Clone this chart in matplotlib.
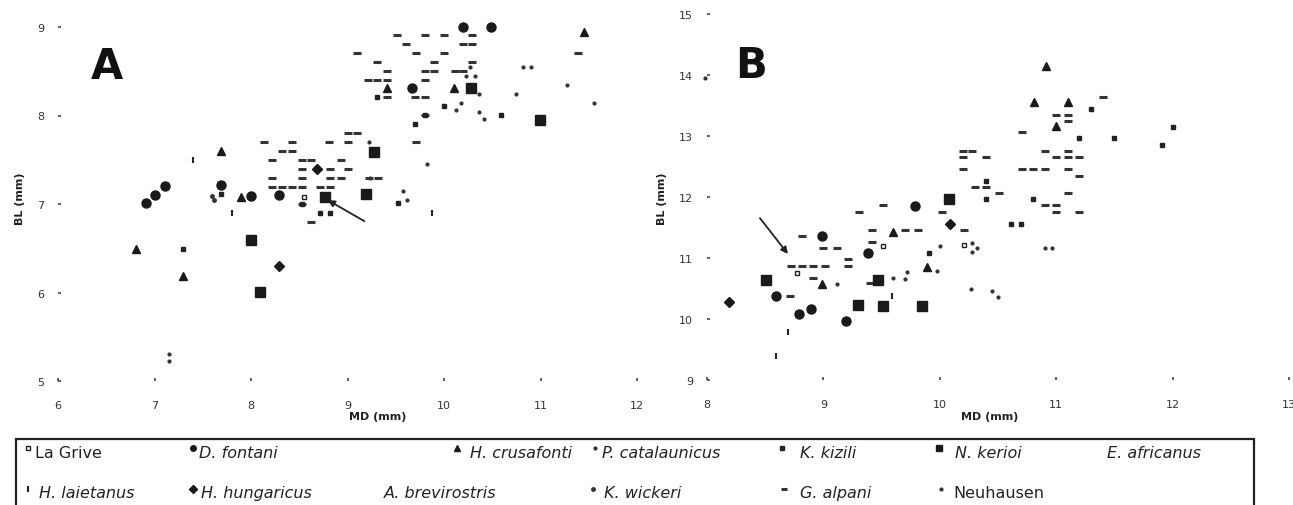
import numpy as np
import matplotlib.pyplot as plt
from matplotlib.lines import Line2D
from matplotlib.patches import Rectangle

# --- data (MD, BL in mm) ---
# panel A
a_alpani = [(9.51, 8.91), (9.80, 8.91), (10.0, 8.91), (10.29, 8.91),
            (9.61, 8.81), (10.20, 8.81), (10.29, 8.81),
            (9.10, 8.71), (9.71, 8.71), (10.0, 8.71), (11.39, 8.71),
            (9.31, 8.60), (9.90, 8.60), (10.29, 8.60),
            (9.41, 8.50), (9.80, 8.50), (9.90, 8.50), (10.11, 8.50), (10.20, 8.50),
            (9.21, 8.40), (9.31, 8.40), (9.41, 8.40), (9.80, 8.40),
            (9.41, 8.21), (9.70, 8.21), (9.80, 8.21), (9.80, 8.01),
            (9.01, 7.80), (9.10, 7.80),
            (8.13, 7.70), (8.42, 7.70), (8.81, 7.70), (9.01, 7.70), (9.71, 7.70),
            (8.32, 7.60), (8.42, 7.60),
            (8.22, 7.50), (8.53, 7.50), (8.62, 7.50), (8.93, 7.50),
            (8.53, 7.40), (8.82, 7.40), (9.01, 7.40),
            (8.22, 7.29), (8.53, 7.29), (8.82, 7.29), (8.93, 7.29), (9.22, 7.29), (9.32, 7.29),
            (8.22, 7.19), (8.32, 7.19), (8.42, 7.19), (8.53, 7.19), (8.72, 7.19), (8.82, 7.19),
            (8.53, 7.00), (8.62, 6.80)]
a_kerioi = [(10.28, 8.31), (10.99, 7.95), (9.27, 7.59), (9.19, 7.11),
            (8.77, 7.08), (8.00, 6.59), (8.09, 6.01)]
a_fontani = [(6.91, 7.01), (7.01, 7.10), (7.11, 7.20), (7.69, 7.21), (8.00, 7.09),
             (8.29, 7.10), (9.67, 8.31), (10.20, 9.00), (10.49, 9.00)]
a_crusafonti = [(6.81, 6.49), (7.30, 6.19), (7.90, 7.08), (9.41, 8.31),
                (10.10, 8.31), (7.69, 7.60), (11.45, 8.94)]
a_hungaricus = [(8.68, 7.40), (8.29, 6.30)]
a_laietanus = [(7.40, 7.50), (7.80, 6.90), (9.88, 6.90)]
a_kizili = [(7.30, 6.49), (9.52, 7.01), (8.72, 6.90), (8.82, 6.90), (10.00, 8.11),
            (9.80, 8.01), (10.59, 8.01), (9.70, 7.90), (9.31, 8.21), (8.53, 7.00), (7.69, 7.11)]
a_neuhausen = [(7.15, 5.31), (7.15, 5.23), (10.27, 8.55), (10.23, 8.45), (10.32, 8.45),
               (10.82, 8.55), (10.90, 8.55), (11.27, 8.34), (11.55, 8.14), (10.36, 8.24),
               (10.75, 8.24), (10.18, 8.14), (10.12, 8.06), (10.36, 8.04), (10.41, 7.96)]
a_catalaunicus = [(9.82, 7.45), (9.57, 7.15), (9.62, 7.05), (9.22, 7.70), (9.23, 7.29)]
a_wickeri = [(7.60, 7.09), (7.62, 7.04)]
a_lagrive = [(8.55, 7.08)]

# panel B
b_alpani = [(10.20, 12.75), (10.28, 12.75), (10.20, 12.66), (10.20, 12.46), (10.30, 12.16),
            (9.51, 11.87), (9.31, 11.75), (10.02, 11.75), (10.21, 11.46), (9.42, 11.46),
            (9.70, 11.46), (9.81, 11.46), (9.42, 11.26), (9.00, 11.16), (9.12, 11.16),
            (9.21, 10.98), (9.21, 10.87), (8.72, 10.87), (8.82, 10.87), (8.91, 10.87),
            (9.01, 10.87), (8.91, 10.67), (8.71, 10.38), (9.40, 10.59), (8.82, 11.36),
            (11.40, 13.64), (11.00, 13.34), (11.10, 13.34), (11.10, 13.25), (10.71, 13.07),
            (10.90, 12.75), (11.10, 12.75), (10.40, 12.66), (11.00, 12.66), (11.10, 12.66),
            (11.20, 12.66), (10.71, 12.46), (10.80, 12.46), (10.90, 12.46), (11.10, 12.46),
            (11.20, 12.34), (10.40, 12.16), (10.51, 12.07), (11.10, 12.07), (10.90, 11.87),
            (11.00, 11.87), (11.00, 11.75), (11.20, 11.75)]
b_kerioi = [(8.51, 10.64), (9.47, 10.64), (9.30, 10.23), (9.51, 10.21),
            (9.85, 10.21), (10.08, 11.97)]
b_kizili = [(10.40, 11.97), (10.80, 11.97), (11.30, 13.44), (11.20, 12.97), (11.50, 12.97),
            (12.00, 13.15), (11.91, 12.85), (10.61, 11.56), (10.70, 11.56), (10.40, 12.26),
            (9.91, 11.08)]
b_fontani = [(9.79, 11.85), (8.99, 11.36), (9.38, 11.08), (8.59, 10.38),
             (8.79, 10.08), (8.89, 10.16), (9.19, 9.97)]
b_crusafonti = [(10.91, 14.15), (10.81, 13.56), (11.10, 13.56), (9.60, 11.43),
                (8.99, 10.57), (9.89, 10.85), (11.00, 13.16)]
b_hungaricus = [(8.19, 10.28), (10.09, 11.56)]
b_neuhausen = [(7.98, 13.95), (10.00, 11.20), (10.28, 11.25), (10.32, 11.16), (10.28, 11.10),
               (9.98, 10.79), (10.27, 10.49), (10.45, 10.46), (10.50, 10.36),
               (10.90, 11.16), (10.96, 11.16)]
b_catalaunicus = [(9.12, 10.57), (9.60, 10.67), (9.70, 10.66), (9.72, 10.77)]
b_laietanus = [(8.59, 9.39), (8.70, 9.79), (9.59, 10.38)]
b_lagrive = [(8.77, 10.75), (9.51, 11.20), (10.21, 11.21)]

# arrows (tail, head)
arrow_a = ((9.20, 6.79), (8.77, 7.06))
arrow_b = ((8.44, 11.69), (8.71, 11.03))

# marker styles per group
styles = {
    'lagrive':      dict(marker='s', ms=3.5, mfc='white', mec='#222', mew=1.0),
    'fontani':      dict(marker='o', ms=6.5, mfc='#1a1a1a', mec='#1a1a1a'),
    'crusafonti':   dict(marker='^', ms=6, mfc='#1a1a1a', mec='#1a1a1a'),
    'catalaunicus': dict(marker='o', ms=2, mfc='#333', mec='#333'),
    'kizili':       dict(marker='s', ms=3.5, mfc='#222', mec='#222'),
    'kerioi':       dict(marker='s', ms=7.5, mfc='#1a1a1a', mec='#1a1a1a'),
    'africanus':    dict(marker='o', ms=2, mfc='#eee', mec='#eee'),
    'laietanus':    dict(marker='|', ms=5, mec='#222', mew=1.5),
    'hungaricus':   dict(marker='D', ms=5.5, mfc='#1a1a1a', mec='#1a1a1a'),
    'brevirostris': dict(marker='o', ms=2, mfc='#eee', mec='#eee'),
    'wickeri':      dict(marker='o', ms=2.5, mfc='#333', mec='#333'),
    'alpani':       dict(marker='_', ms=6, mec='#333', mew=2.2),
    'neuhausen':    dict(marker='o', ms=2, mfc='#333', mec='#333'),
}

panel_a = {'alpani': a_alpani, 'kerioi': a_kerioi, 'fontani': a_fontani,
           'crusafonti': a_crusafonti, 'hungaricus': a_hungaricus,
           'laietanus': a_laietanus, 'kizili': a_kizili, 'neuhausen': a_neuhausen,
           'catalaunicus': a_catalaunicus, 'wickeri': a_wickeri, 'lagrive': a_lagrive}
panel_b = {'alpani': b_alpani, 'kerioi': b_kerioi, 'kizili': b_kizili,
           'fontani': b_fontani, 'crusafonti': b_crusafonti,
           'hungaricus': b_hungaricus, 'neuhausen': b_neuhausen,
           'catalaunicus': b_catalaunicus, 'laietanus': b_laietanus,
           'lagrive': b_lagrive}

W, H = 1293, 506
fig = plt.figure(figsize=(W / 100, H / 100), dpi=100)
plt.rcParams['font.family'] = ['DejaVu Sans']

axA = fig.add_axes([58 / W, 1 - 382 / H, (637 - 58) / W, (382 - 28) / H])
axB = fig.add_axes([707 / W, 1 - 381 / H, (1289 - 707) / W, (381 - 15) / H])


def draw_panel(ax, groups, xlim, ylim, letter, arrow):
    for key, pts in groups.items():
        pts = np.array(pts)
        ax.plot(pts[:, 0], pts[:, 1], ls='none', clip_on=False, **styles[key])
    ax.set_xlim(*xlim)
    ax.set_ylim(*ylim)
    ax.set_xticks(range(xlim[0], xlim[1] + 1))
    ax.set_yticks(range(ylim[0], ylim[1] + 1))
    for s in ax.spines.values():
        s.set_visible(False)
    ax.tick_params(direction='in', length=2, width=1.3, color='#555',
                   labelsize=8, labelcolor='#333')
    ax.tick_params(axis='x', pad=14)
    ax.tick_params(axis='y', pad=10)
    ax.text(0.085, 0.89, letter, transform=ax.transAxes, fontsize=30,
            fontweight='bold', ha='center', va='center', color='#111')
    ax.annotate('', xy=arrow[1], xytext=arrow[0],
                arrowprops=dict(arrowstyle='-|>', color='#222', lw=1.3,
                                mutation_scale=10))


draw_panel(axA, panel_a, (6, 12), (5, 9), 'A', arrow_a)
draw_panel(axB, panel_b, (8, 13), (9, 15), 'B', arrow_b)
axB.texts[0].set_position((0.075, 0.86))

# axis labels
fig.text(378 / W, 1 - 417 / H, 'MD (mm)', fontsize=8, fontweight='bold',
         ha='center', va='center', color='#222')
fig.text(990 / W, 1 - 417 / H, 'MD (mm)', fontsize=8, fontweight='bold',
         ha='center', va='center', color='#222')
fig.text(20 / W, 1 - 199 / H, 'BL (mm)', fontsize=8, fontweight='bold',
         rotation=90, ha='center', va='center', color='#222')
fig.text(662 / W, 1 - 199 / H, 'BL (mm)', fontsize=8, fontweight='bold',
         rotation=90, ha='center', va='center', color='#222')

# legend box with two rows
fig.add_artist(Rectangle((16 / W, -0.05), (1254 - 16) / W, 1 - 440 / H + 0.05,
                         transform=fig.transFigure, fill=False, lw=1.6,
                         ec='#222', clip_on=False))
legend_rows = [
    [('La Grive', 'lagrive', 28, 35, False), ('D. fontani', 'fontani', 193, 199, True),
     ('H. crusafonti', 'crusafonti', 457, 470, True),
     ('P. catalaunicus', 'catalaunicus', 595, 602, True),
     ('K. kizili', 'kizili', 782, 800, True), ('N. kerioi', 'kerioi', 939, 955, True),
     ('E. africanus', 'africanus', None, 1107, True)],
    [('H. laietanus', 'laietanus', 28, 39, True), ('H. hungaricus', 'hungaricus', 193, 201, True),
     ('A. brevirostris', 'brevirostris', None, 384, True),
     ('K. wickeri', 'wickeri', 593, 604, True), ('G. alpani', 'alpani', 784, 800, True),
     ('Neuhausen', 'neuhausen', 941, 953, False)],
]
row_y = [453, 494]
for row, ypx in zip(legend_rows, row_y):
    yf = 1 - ypx / H
    for label, key, xm, xt, ital in row:
        if xm is not None:
            st = dict(styles[key])
            st['ms'] = min(st['ms'], 4)
            fig.add_artist(Line2D([xm / W], [yf + 0.008], transform=fig.transFigure,
                                  ls='none', **st))
        fig.text(xt / W, yf, label, fontsize=11.5, ha='left', va='center',
                 color='#222', style='italic' if ital else 'normal')

fig.savefig('out.png', dpi=100)
